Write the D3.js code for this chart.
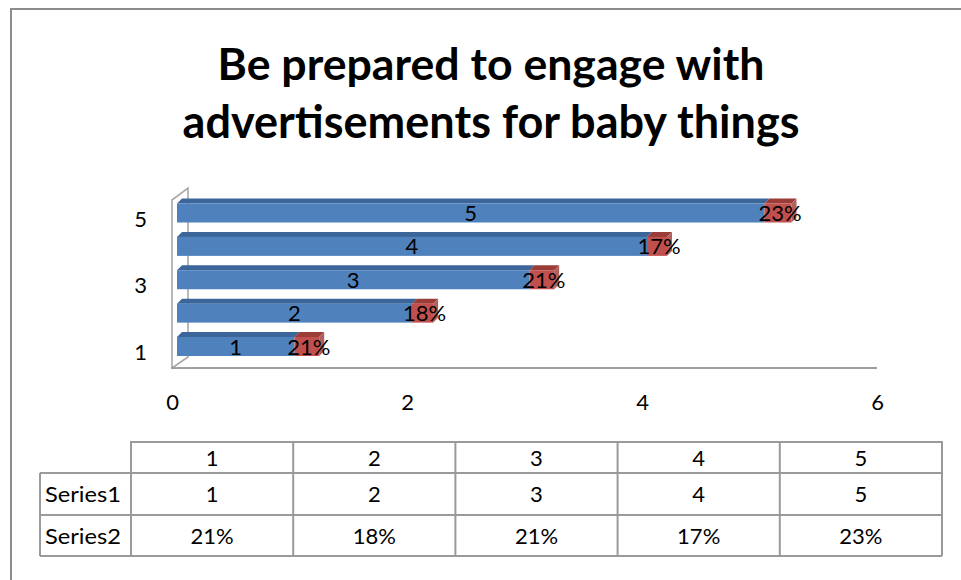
<!DOCTYPE html>
<html>
<head>
<meta charset="utf-8">
<script src="https://cdn.jsdelivr.net/npm/d3@7"></script>
<style>
  body { margin: 0; background: #fff; }
  svg { display: block; font-family: Lato, "Open Sans", sans-serif; }
</style>
</head>
<body>
<div class="chart"></div>
<script>
let categories = [1, 2, 3, 4, 5]
let series1 = [1, 2, 3, 4, 5]
let series2 = [0.21, 0.18, 0.21, 0.17, 0.23]
let xTicks = [0, 2, 4, 6]
let yTickLabels = [1, 3, 5]
let seriesNames = ["Series1", "Series2"]
let titleLines = ["Be prepared to engage with", "advertisements for baby things"]

let width = 961
let height = 580
let depth = 5
let barH = 19
let pct = d3.format(".0%")
let fs = 22

let svg = d3.select(".chart")
  .append("svg")
  .attr("width", width)
  .attr("height", height)

// outer frame (right/bottom fall outside the window)
svg.append("rect")
  .attr("x", 11).attr("y", 9)
  .attr("width", 970).attr("height", 600)
  .attr("fill", "none")
  .attr("stroke", "#8c8c8c")
  .attr("stroke-width", 2)

// title
let titleWidths = [547, 617]
svg.selectAll(".title")
  .data(titleLines)
  .enter()
  .append("text")
  .attr("class", "title")
  .attr("x", 491)
  .attr("y", (d, i) => 80 + i * 58)
  .attr("text-anchor", "middle")
  .attr("font-weight", "bold")
  .attr("font-size", 40)
  .attr("fill", "#000")
  .text(d => d)
  .each(function (d, i) {
    let w = this.getComputedTextLength()
    d3.select(this).attr("font-size", 40 * titleWidths[i] / w)
  })

// scales
let x = d3.scaleLinear().domain([0, 6]).range([172, 877])
let y = d3.scalePoint().domain(categories.slice().reverse()).range([213, 346.5])

// side wall + floor
let wall = svg.append("g")
  .attr("fill", "none")
  .attr("stroke", "#a8a8a8")
  .attr("stroke-width", 1.6)
wall.append("path")
  .attr("d", `M${x(0)},368 L${x(0)},200 L${x(0) + 16},188 L${x(0) + 16},357 L${x(0)},368`)
wall.append("line")
  .attr("x1", x(0) - 1).attr("x2", x(6))
  .attr("y1", 368).attr("y2", 368)
  .attr("stroke", "#a0a0a0")
  .attr("stroke-width", 2)

// bars
let rows = categories.map((c, i) => ({ cat: c, a: series1[i], b: series2[i] }))
let bx = v => x(v) + 5

let bars = svg.append("g")
  .selectAll("g")
  .data(rows)
  .enter()
  .append("g")

let seg = (g, from, to, front, top, side) => {
  g.append("path")
    .attr("fill", top)
    .attr("d", d => {
      let y0 = y(d.cat) - barH / 2
      return `M${bx(from(d))},${y0} L${bx(from(d)) + depth},${y0 - depth} L${bx(to(d)) + depth},${y0 - depth} L${bx(to(d))},${y0}Z`
    })
  g.append("rect")
    .attr("fill", front)
    .attr("x", d => bx(from(d)))
    .attr("y", d => y(d.cat) - barH / 2)
    .attr("width", d => bx(to(d)) - bx(from(d)))
    .attr("height", barH)
  if (side) {
    g.append("path")
      .attr("fill", side)
      .attr("d", d => {
        let y0 = y(d.cat) - barH / 2
        let xe = bx(to(d))
        return `M${xe},${y0} L${xe + depth},${y0 - depth} L${xe + depth},${y0 - depth + barH} L${xe},${y0 + barH}Z`
      })
  }
}

seg(bars, d => 0, d => d.a, "#4f81bd", "#3c6699")
seg(bars, d => d.a, d => d.a + d.b, "#c0504d", "#9c3c39", "#b0605d")

bars.append("text")
  .attr("x", d => (bx(0) + bx(d.a)) / 2)
  .attr("y", d => y(d.cat) + 8)
  .attr("text-anchor", "middle")
  .attr("font-size", fs)
  .text(d => d.a)

bars.append("text")
  .attr("x", d => (bx(d.a) + bx(d.a + d.b)) / 2 + 2)
  .attr("y", d => y(d.cat) + 8)
  .attr("text-anchor", "middle")
  .attr("font-size", fs)
  .text(d => pct(d.b))

// axes
let xAxis = svg.append("g")
  .attr("transform", "translate(0,394)")
  .call(d3.axisBottom(x).tickValues(xTicks).tickFormat(d3.format("d")).tickSize(0).tickPadding(0))
xAxis.select(".domain").remove()
xAxis.selectAll("text")
  .attr("font-size", fs)
  .attr("font-family", "Lato, sans-serif")
  .attr("fill", "#000")

let yAxis = svg.append("g")
  .attr("transform", "translate(147,6)")
  .call(d3.axisLeft(y).tickValues(yTickLabels).tickSize(0).tickPadding(0))
yAxis.select(".domain").remove()
yAxis.selectAll("text")
  .attr("font-size", fs)
  .attr("font-family", "Lato, sans-serif")
  .attr("fill", "#000")

// data table
let colX = d3.scaleBand().domain(categories).range([131, 942])
let rowY = [442, 473, 515, 556]
let tbl = svg.append("g")
  .attr("stroke", "#9a9a9a")
  .attr("stroke-width", 2)
  .attr("fill", "none")

tbl.append("path")
  .attr("d", `M${colX.range()[0]},${rowY[3]} L${colX.range()[0]},${rowY[0]} L${colX.range()[1]},${rowY[0]} L${colX.range()[1]},${rowY[3]}`)
tbl.append("path")
  .attr("d", `M40,${rowY[1]} L${colX.range()[1]},${rowY[1]} M40,${rowY[2]} L${colX.range()[1]},${rowY[2]} M40,${rowY[3]} L${colX.range()[1]},${rowY[3]} M40,${rowY[1]} L40,${rowY[3]}`)
tbl.selectAll(".vline")
  .data(categories.slice(1))
  .enter()
  .append("line")
  .attr("x1", d => colX(d)).attr("x2", d => colX(d))
  .attr("y1", rowY[0]).attr("y2", rowY[3])

let cellText = (vals, r, fmt) => {
  svg.append("g")
    .selectAll("text")
    .data(vals)
    .enter()
    .append("text")
    .attr("x", (d, i) => colX(categories[i]) + colX.bandwidth() / 2)
    .attr("y", (rowY[r] + rowY[r + 1]) / 2 + 8)
    .attr("text-anchor", "middle")
    .attr("font-size", fs)
    .text(fmt)
}
cellText(categories, 0, d => d)
cellText(series1, 1, d => d)
cellText(series2, 2, d => pct(d))

svg.append("g")
  .selectAll("text")
  .data(seriesNames)
  .enter()
  .append("text")
  .attr("x", 45)
  .attr("y", (d, i) => (rowY[i + 1] + rowY[i + 2]) / 2 + 8)
  .attr("font-size", fs)
  .attr("textLength", 76)
  .attr("lengthAdjust", "spacingAndGlyphs")
  .text(d => d)
</script>
</body>
</html>
